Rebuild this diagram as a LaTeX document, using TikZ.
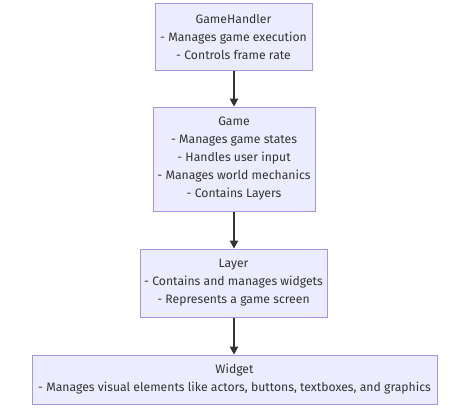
\documentclass[tikz,border=0pt]{standalone}
\usepackage{fontspec}
\setmainfont{Fira Sans}
\usetikzlibrary{arrows.meta}
\definecolor{boxfill}{HTML}{ECECFF}
\definecolor{boxline}{HTML}{A994E3}
\definecolor{edge}{HTML}{333333}
\tikzset{
  cls/.style={draw=boxline, fill=boxfill, line width=1pt, align=center, inner sep=0pt,
    font=\fontsize{12.2}{18}\selectfont, text=edge},
  link/.style={draw=edge, line width=1.3pt, -{Triangle[length=8pt,width=8.5pt]}}
}
\begin{document}
\begin{tikzpicture}[x=1pt,y=-1pt]
\useasboundingbox (0,0) rectangle (474,408);
\node[cls, minimum width=157pt, minimum height=67pt] (gh) at (233.5,36.5)
  {GameHandler\\- Manages game execution\\- Controls frame rate};
\node[cls, minimum width=162pt, minimum height=104pt] (g) at (234,159)
  {Game\\- Manages game states\\- Handles user input\\- Manages world mechanics\\- Contains Layers};
\node[cls, minimum width=187pt, minimum height=68pt] (l) at (233.5,283)
  {Layer\\- Contains and manages widgets\\- Represents a game screen};
\node[cls, minimum width=405pt, minimum height=49pt] (w) at (234.5,379.5)
  {Widget\\- Manages visual elements like actors, buttons, textboxes, and graphics};
\draw[link] (gh.south -| 234,0) -- (g.north -| 234,0);
\draw[link] (g.south -| 234,0) -- (l.north -| 234,0);
\draw[link] (l.south -| 234,0) -- (w.north -| 234,0);
\end{tikzpicture}
\end{document}
